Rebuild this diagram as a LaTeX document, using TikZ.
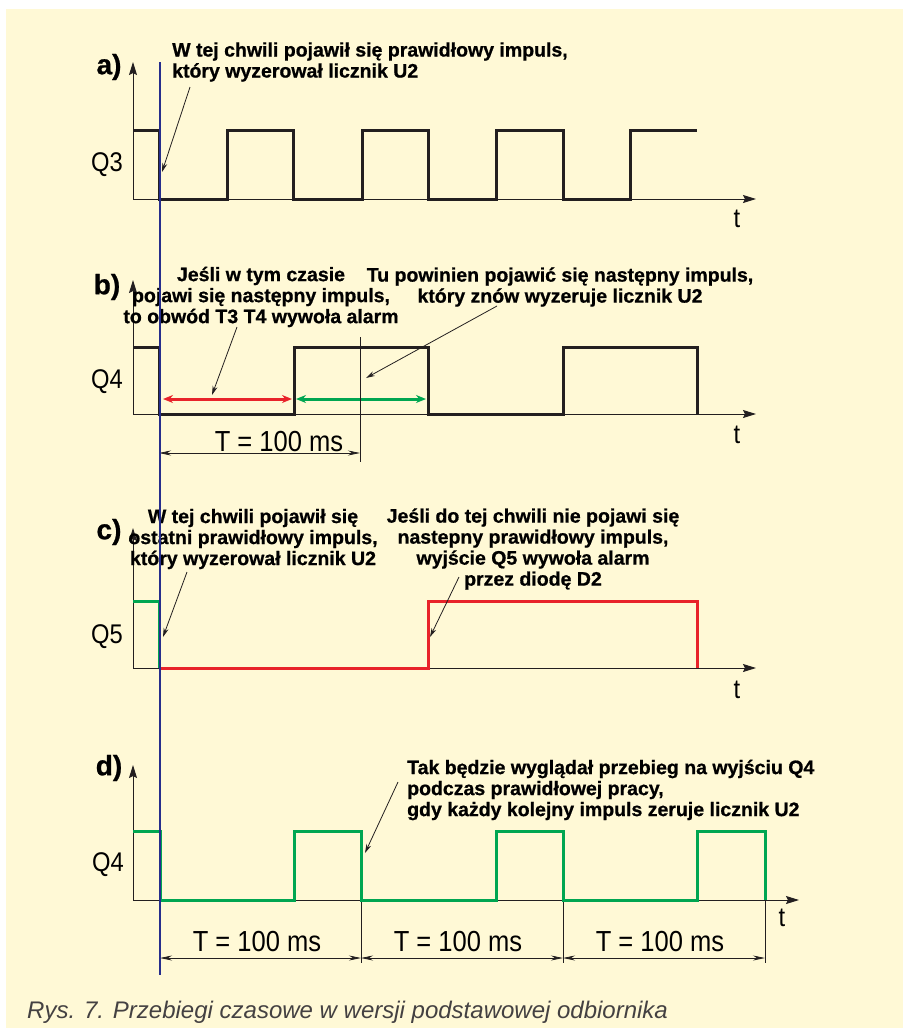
\documentclass[tikz,border=0pt]{standalone}
\usepackage{fontspec}
\setmainfont{Liberation Sans}
\newfontfamily\notefont[FakeBold=0.8]{Liberation Sans}
\newfontfamily\condfont[FakeStretch=0.88]{Liberation Sans}
\usetikzlibrary{arrows.meta}

\definecolor{paper}{RGB}{255,249,214}
\definecolor{ink}{RGB}{35,31,32}
\definecolor{alarmred}{RGB}{232,35,42}
\definecolor{okgreen}{RGB}{0,166,81}
\definecolor{syncblue}{RGB}{38,46,140}

\tikzset{
  axis/.style = {ink, line width = 0.9pt, -{Stealth[length=13pt, width=8pt, inset=2pt]}},
  wave/.style = {ink, line width = 3pt},
  thin/.style = {ink, line width = 0.6pt},
  note/.style = {font = \notefont\bfseries\fontsize{19.5}{21}\selectfont, inner sep = 0pt},
  pointer/.style = {ink, line width = 0.8pt, -{Stealth[length=9pt, width=5pt]}},
  span/.style = {ink, line width = 0.8pt, {Stealth[length=12pt, width=5pt]}-{Stealth[length=12pt, width=5pt]}},
  period/.style = {line width = 3pt, {Stealth[length=10pt, width=8pt]}-{Stealth[length=10pt, width=8pt]}},
  sig/.style = {font = \condfont\fontsize{27}{27}\selectfont, inner sep = 0pt},
  part/.style = {font = \notefont\bfseries\fontsize{28}{28}\selectfont, inner sep = 0pt},
  tval/.style = {font = \condfont\fontsize{29}{29}\selectfont, inner sep = 0pt},
}

\begin{document}
\begin{tikzpicture} [x = 1pt, y = -1pt]
\useasboundingbox (0,0) rectangle (903,1028);
\fill [paper] (6,9) rectangle (903,1028);

% a) Q3
\draw [axis] (133,199) -- (133,62);
\draw [axis] (133,199) -- (756,199);
\draw [wave] (133,130) -- (159,130) -- (159,199) -- (227,199) -- (227,130) -- (293,130) -- (293,199) -- (362,199) -- (362,130) -- (428,130) -- (428,199) -- (496,199) -- (496,130) -- (563,130) -- (563,199) -- (630,199) -- (630,130) -- (697,130);
\node [part] (partA) at (109,67) {a)};
\node [sig] (sigA) at (107,165) {Q3};
\node [sig] (tA) at (737,219) {t};
\node [note, anchor = west, align = left] (noteA) at (172,62) {W tej chwili pojawił się prawidłowy impuls,\\który wyzerował licznik U2};
\coordinate (fromA) at (190,87);
\coordinate (resetA) at (162,172);
\draw [pointer] (fromA) -- (resetA);

% b) Q4, pierwszy okres
\draw [axis] (133,414) -- (133,280);
\draw [axis] (133,414) -- (756,414);
\draw [wave] (133,347) -- (159,347) -- (159,414) -- (294,414) -- (294,347) -- (428,347) -- (428,414) -- (563,414) -- (563,347) -- (697,347) -- (697,414);
\draw [period, alarmred] (163,399) -- (292,399);
\draw [period, okgreen] (296,399) -- (426,399);
\draw [thin] (360,337) -- (360,462);
\draw [span] (159,453) -- (360,453);
\node [tval] (periodB) at (279,442) {T = 100 ms};
\node [part] (partB) at (107,287) {b)};
\node [sig] (sigB) at (107,382) {Q4};
\node [sig] (tB) at (737,435) {t};
\node [note, align = center] (noteB1) at (261,297) {Jeśli w tym czasie\\pojawi się następny impuls,\\to obwód T3 T4 wywoła alarm};
\node [note, align = center] (noteB2) at (560,287) {Tu powinien pojawić się następny impuls,\\który znów wyzeruje licznik U2};
\coordinate (fromB1) at (237,327);
\coordinate (redspan) at (212,395);
\coordinate (fromB2) at (497,306);
\coordinate (nextB) at (366,378);
\draw [pointer] (fromB1) -- (redspan);
\draw [pointer] (fromB2) -- (nextB);

% c) Q5
\draw [axis] (133,668) -- (133,528);
\draw [axis] (133,668) -- (756,668);
\draw [wave, okgreen] (133,601) -- (159,601) -- (159,668);
\draw [wave, alarmred] (159,668) -- (428,668) -- (428,601) -- (697,601) -- (697,668);
\node [part] (partC) at (109,532) {c)};
\node [sig] (sigC) at (107,637) {Q5};
\node [sig] (tC) at (737,690) {t};
\node [note, align = center] (noteC1) at (253,539) {W tej chwili pojawił się\\ostatni prawidłowy impuls,\\który wyzerował licznik U2};
\node [note, align = center] (noteC2) at (533,549) {Jeśli do tej chwili nie pojawi się\\nastepny prawidłowy impuls,\\wyjście Q5 wywoła alarm\\przez diodę D2};
\coordinate (fromC1) at (187,572);
\coordinate (lastC) at (163,637);
\coordinate (fromC2) at (459,577);
\coordinate (alarmC) at (430,637);
\draw [pointer] (fromC1) -- (lastC);
\draw [pointer] (fromC2) -- (alarmC);

% d) Q4 przy poprawnej pracy
\draw [axis] (133,900) -- (133,765);
\draw [axis] (133,900) -- (799,900);
\foreach \s in {361,563,765} {
\draw [thin] (\s,900) -- (\s,963);
}
\draw [wave, okgreen] (133,831) -- (160,831) -- (160,900) -- (294,900) -- (294,831) -- (361,831) -- (361,900) -- (496,900) -- (496,831) -- (563,831) -- (563,900) -- (697,900) -- (697,831) -- (765,831) -- (765,900);
\draw [span] (160,958) -- (361,958);
\draw [span] (361,958) -- (563,958);
\draw [span] (563,958) -- (765,958);
\node [tval] (periodD1) at (257,942) {T = 100 ms};
\node [tval] (periodD2) at (458,942) {T = 100 ms};
\node [tval] (periodD3) at (660,942) {T = 100 ms};
\node [part] (partD) at (109,768) {d)};
\node [sig] (sigD) at (108,865) {Q4};
\node [sig] (tD) at (782,918) {t};
\node [note, anchor = west, align = left] (noteD) at (407,790) {Tak będzie wyglądał przebieg na wyjściu Q4\\podczas prawidłowej pracy,\\gdy każdy kolejny impuls zeruje licznik U2};
\coordinate (fromD) at (398,782);
\coordinate (resetD) at (365,853);
\draw [pointer] (fromD) -- (resetD);

% chwila zerowania
\draw [syncblue, line width = 1.8pt] (160,62) -- (160,975);

\node [anchor = west, inner sep = 0pt, font = \itshape\fontsize{24}{24}\selectfont, ink!85] (caption) at (27,1012) {Rys. 7. Przebiegi czasowe w wersji podstawowej odbiornika};
\end{tikzpicture}
\end{document}
